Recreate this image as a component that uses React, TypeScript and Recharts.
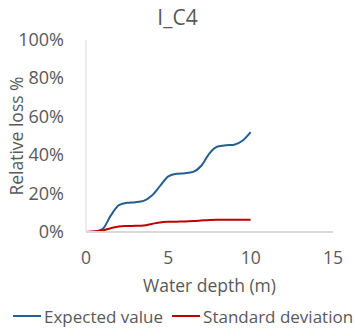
import { LineChart, Line, XAxis, YAxis, Legend } from 'recharts';

// Water depth (m) and relative loss (%)
const depth = [0, 0.5, 1, 1.5, 2, 2.5, 3, 3.5, 4, 4.5, 5, 5.5, 6, 6.5, 7, 7.5, 8, 8.5, 9, 9.5, 10];
const expectedValue = [0, 0.2, 1.5, 8.5, 14, 15.2, 15.5, 16.2, 19, 24, 29, 30.3, 30.6, 31.3, 34.5, 41, 44.5, 45.2, 45.5, 47.5, 52];
const standardDeviation = [0, 0.2, 0.8, 2, 2.9, 3.1, 3.2, 3.4, 4.2, 5, 5.3, 5.4, 5.5, 5.7, 6, 6.3, 6.4, 6.4, 6.4, 6.4, 6.4];
const xTicks = [0, 5, 10, 15];
const yTicks = [0, 20, 40, 60, 80, 100];

const BLUE = '#255E91';
const RED = '#C00000';
const TEXT = '#595959';
const FONT = '"Open Sans", "Noto Sans", sans-serif';
const FS = 17.5;

const rows = depth.map((d, i) => ({
  depth: d,
  expected: expectedValue[i],
  std: standardDeviation[i],
}));

const legendItems = [
  { name: 'Expected value', color: BLUE },
  { name: 'Standard deviation', color: RED },
];

// tick renderers: x ticks centred under the axis, y ticks right-aligned
const XTick = (p: any) => (
  <text x={p.x} y={p.y + 30} textAnchor="middle" fill={TEXT} fontSize={FS} fontFamily={FONT}>
    {p.payload.value}
  </text>
);
const YTick = (p: any) => (
  <text x={p.x - 20} y={p.y + 6} textAnchor="end" fill={TEXT} fontSize={18} fontFamily={FONT}>
    {`${p.payload.value}%`}
  </text>
);

function LegendBox() {
  return (
    <div style={{ display: 'flex', height: 24, alignItems: 'center', fontFamily: FONT, fontSize: 17, color: TEXT }}>
      {legendItems.map((it) => (
        <div key={it.name} style={{ display: 'flex', alignItems: 'center', marginRight: 8 }}>
          <svg width={30} height={4} style={{ marginRight: 2 }}>
            <line x1={1} y1={2} x2={29} y2={2} stroke={it.color} strokeWidth={2} />
          </svg>
          <span style={{ whiteSpace: 'nowrap' }}>{it.name}</span>
        </div>
      ))}
    </div>
  );
}

export default function App() {
  return (
    <div style={{ position: 'absolute', left: 0, top: 0, width: 355, height: 329, background: '#fff' }}>
      <div
        style={{
          position: 'absolute', left: 0, top: 3, width: 355, textAlign: 'center',
          fontFamily: FONT, fontSize: 21, color: TEXT, zIndex: 1,
        }}
      >
        I_C4
      </div>
      <LineChart width={355} height={329} data={rows} margin={{ top: 40, right: 22, bottom: 43, left: 0 }}>
        <XAxis
          dataKey="depth"
          type="number"
          domain={[0, 15]}
          ticks={xTicks}
          tickLine={false}
          tickSize={0}
          height={30}
          axisLine={{ stroke: '#D9D9D9', strokeWidth: 2 }}
          tick={<XTick />}
          label={{ value: 'Water depth (m)', position: 'bottom', offset: 18, fill: TEXT, fontSize: FS, fontFamily: FONT }}
        />
        <YAxis
          type="number"
          domain={[0, 100]}
          ticks={yTicks}
          width={86}
          tickLine={false}
          tickSize={0}
          axisLine={{ stroke: '#D9D9D9', strokeWidth: 1 }}
          tick={<YTick />}
          label={{ value: 'Relative loss %', angle: -90, position: 'center', dx: -26, fill: TEXT, fontSize: FS, fontFamily: FONT }}
        />
        <Legend
          verticalAlign="bottom"
          content={() => <LegendBox />}
          wrapperStyle={{ bottom: 1, left: 12 }}
        />
        <Line type="monotone" dataKey="expected" name="Expected value" stroke={BLUE} strokeWidth={2} dot={false} isAnimationActive={false} />
        <Line type="monotone" dataKey="std" name="Standard deviation" stroke={RED} strokeWidth={2} dot={false} isAnimationActive={false} />
      </LineChart>
    </div>
  );
}
